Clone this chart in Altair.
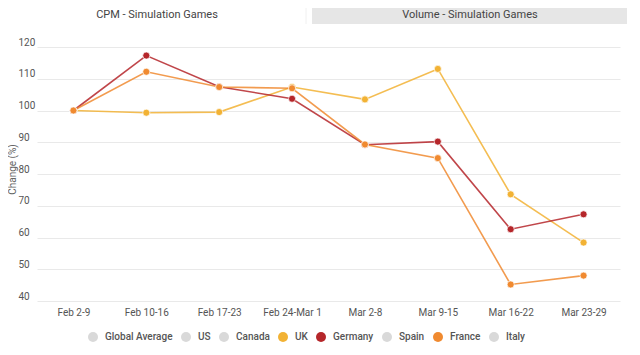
import altair as alt
import pandas as pd

weeks = ["Feb 2-9", "Feb 10-16", "Feb 17-23", "Feb 24-Mar 1",
         "Mar 2-8", "Mar 9-15", "Mar 16-22", "Mar 23-29"]
uk = [100, 99.3, 99.5, 107.4, 103.5, 113.1, 73.6, 58.4]
germany = [100, 117.3, 107.5, 103.7, 89.2, 90.2, 62.6, 67.3]
france = [100, 112.2, 107.4, 107.0, 89.3, 85.0, 45.2, 48.0]

countries = ["Global Average", "US", "Canada", "UK", "Germany", "Spain", "France", "Italy"]
country_colors = ["#d9d9d9", "#d9d9d9", "#d9d9d9", "#f2b234", "#b5262a", "#d9d9d9", "#f08a30", "#d9d9d9"]
y_ticks = [40, 50, 60, 70, 80, 90, 100, 110, 120]
tab_labels = ["CPM - Simulation Games", "Volume - Simulation Games"]

rows = []
for name, vals in [("UK", uk), ("Germany", germany), ("France", france)]:
    for w, v in zip(weeks, vals):
        rows.append({"week": w, "country": name, "value": v})
df = pd.DataFrame(rows)

x = alt.X("week:N", sort=weeks, scale=alt.Scale(type="point", padding=0.5),
          axis=alt.Axis(title=None, labelAngle=0, ticks=False, domain=False, grid=False,
                        labelPadding=6, labelFontSize=10, labelColor="#555555"))
y = alt.Y("value:Q", scale=alt.Scale(domain=[40, 120], nice=False, zero=False),
          axis=alt.Axis(title="Change (%)", values=y_ticks, ticks=False, domain=False,
                        grid=True, gridColor="#e9e9e9", labelAlign="left", labelPadding=19,
                        labelBaseline="bottom", labelFontSize=10, labelColor="#555555",
                        titleFontSize=10, titleColor="#666666", titleFontWeight="normal",
                        titleX=-20, titleY=122))

legend = alt.Legend(title=None, orient="none", legendX=51, legendY=285,
                    direction="horizontal", symbolType="circle",
                    symbolSize=100, symbolStrokeWidth=0, symbolOpacity=1,
                    labelFontSize=10, labelColor="#555555",
                    labelFontWeight=500, columnPadding=8, labelOffset=7,
                    values=countries)
cscale = alt.Scale(domain=countries, range=country_colors)

base = alt.Chart(df)

lines = base.mark_line(strokeWidth=1.6, opacity=0.85).encode(
    x=x, y=y,
    color=alt.Color("country:N", scale=cscale, legend=legend),
)
points = base.mark_point(size=50, opacity=1, filled=True, stroke="white", strokeWidth=0.7,
                         shape="circle").encode(
    x=x, y=y,
    color=alt.Color("country:N", scale=cscale, legend=legend),
)

tab_df = pd.DataFrame({"tab": tab_labels})
gray_tab = alt.Chart(tab_df).transform_filter(alt.datum.tab == tab_labels[1]).mark_rect(
    color="#e6e6e6").encode(
    x=alt.value(275), x2=alt.value(590), y=alt.value(-47), y2=alt.value(-23))
tab_sep = alt.Chart(tab_df).transform_filter(alt.datum.tab == tab_labels[0]).mark_rule(
    color="#f0f0f0", strokeWidth=1).encode(
    x=alt.value(269), y=alt.value(-47), y2=alt.value(-23))
tab_text1 = alt.Chart(tab_df).transform_filter(alt.datum.tab == tab_labels[0]).mark_text(
    fontSize=11, color="#444444", align="center", baseline="middle").encode(
    x=alt.value(120), y=alt.value(-32), text="tab:N")
tab_text2 = alt.Chart(tab_df).transform_filter(alt.datum.tab == tab_labels[1]).mark_text(
    fontSize=11, color="#444444", align="center", baseline="middle").encode(
    x=alt.value(433), y=alt.value(-32), text="tab:N")

chart = alt.layer(gray_tab, tab_sep, tab_text1, tab_text2, lines, points).properties(
    width=583, height=254,
    autosize=alt.AutoSizeParams(type="none"),
    padding={"left": 29, "top": 39, "right": 12, "bottom": 46},
).configure(font="Roboto").configure_view(stroke=None)

chart.save("out.html", embed_options={"renderer": "svg", "actions": False})
